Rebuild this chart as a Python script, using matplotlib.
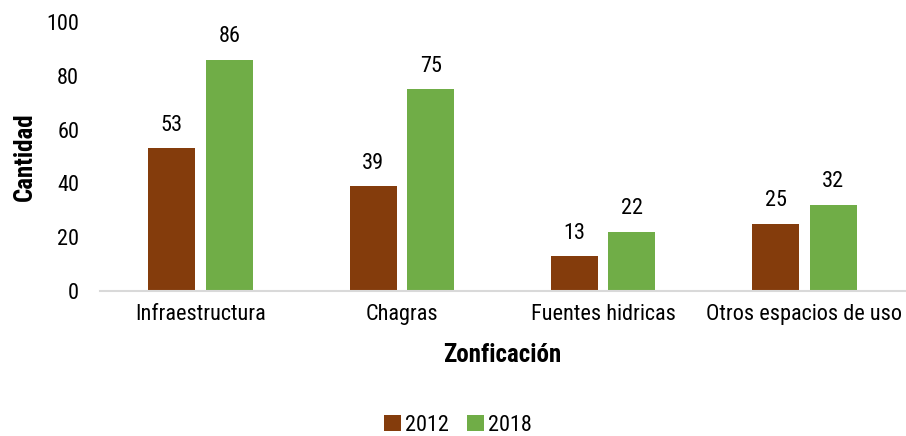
import matplotlib
matplotlib.use("Agg")
import matplotlib.pyplot as plt
from matplotlib import font_manager as fm
import numpy as np

categories = ["Infraestructura", "Chagras", "Fuentes hidricas", "Otros espacios de uso"]
values_2012 = [53, 39, 13, 25]
values_2018 = [86, 75, 22, 32]
series_labels = ["2012", "2018"]
yticks = [0, 20, 40, 60, 80, 100]

names = {f.name for f in fm.fontManager.ttflist}
fam = next((n for n in ["Roboto Condensed", "Archivo Narrow", "PT Sans Narrow", "Liberation Sans"] if n in names), "DejaVu Sans")
plt.rcParams['font.family'] = [fam, 'DejaVu Sans']

FS = 16

fig = plt.figure(figsize=(9.06, 4.36), dpi=100)
ax = fig.add_axes([100/906, 1-291/436, 805/906, (291-22)/436])

x = np.arange(len(categories))
w = 0.233
off = 0.143
b1 = ax.bar(x - off, values_2012, w, color="#843C0C", label=series_labels[0])
b2 = ax.bar(x + off, values_2018, w, color="#70AD47", label=series_labels[1])
for bars in (b1, b2):
    for r in bars:
        ax.annotate(f"{int(r.get_height())}", (r.get_x()+r.get_width()/2, r.get_height()),
                    xytext=(0, 9), textcoords="offset points", ha="center", va="bottom",
                    fontsize=FS, color="#000000")

ax.set_xlim(-0.5, len(categories)-0.5)
ax.set_ylim(0, 100)
ax.set_yticks(yticks)
ax.set_xticks(x)
ax.set_xticklabels(categories, fontsize=FS)
ax.tick_params(axis='y', labelsize=FS, length=0, pad=15)
ax.tick_params(axis='x', length=0, pad=9)
for s in ["top", "right", "left"]:
    ax.spines[s].set_visible(False)
ax.spines["bottom"].set_color("#D9D9D9")
ax.spines["bottom"].set_linewidth(1.5)

ax.set_ylabel("Cantidad", fontsize=18, fontweight="bold")
ax.yaxis.set_label_coords(-0.079, 0.5)
ax.set_xlabel("Zonficación", fontsize=18, fontweight="bold")
ax.xaxis.set_label_coords(0.5, -0.195)

fig.legend(handles=[b1, b2], labels=series_labels, loc="center", bbox_to_anchor=(458/906, 1-425/436),
           ncol=2, frameon=False, fontsize=FS, handlelength=0.75, handleheight=0.75,
           handletextpad=0.2, columnspacing=0.8)

fig.savefig("out.png", dpi=100)
